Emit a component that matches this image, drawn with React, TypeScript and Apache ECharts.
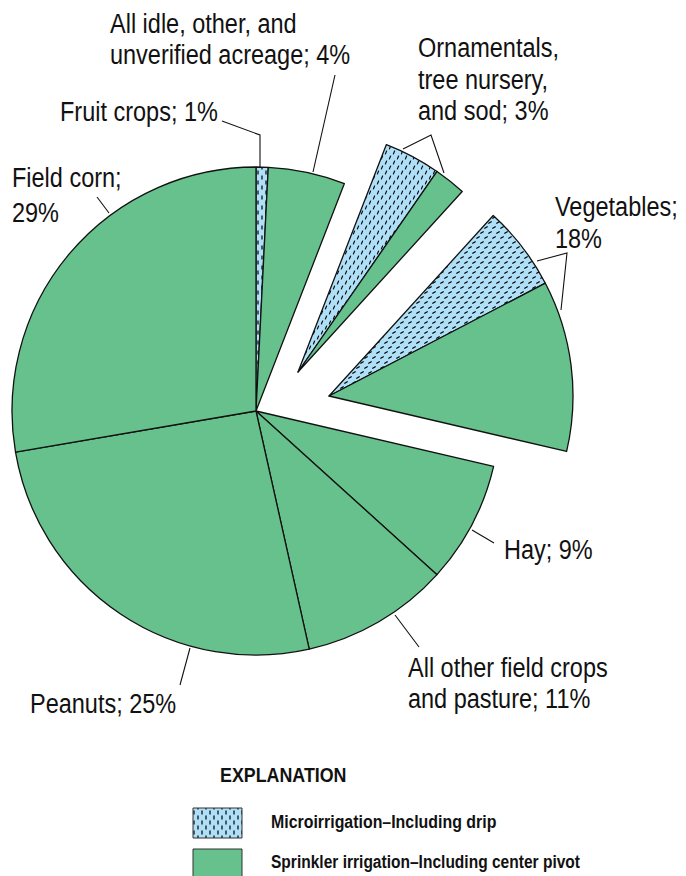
import React, { useEffect, useRef } from "react";
import * as echarts from "echarts";

// ---- Data ----
const categories = [
  "Fruit crops",
  "All idle, other, and unverified acreage",
  "Ornamentals, tree nursery, and sod",
  "Vegetables",
  "Hay",
  "All other field crops and pasture",
  "Peanuts",
  "Field corn",
];
// printed percentages in the labels
const labelPercents = [1, 4, 3, 18, 9, 11, 25, 29];
// share of the circle as drawn (percent of 360°), split by irrigation type
const microShare = [0.8, 0, 3.75, 5.6, 0, 0, 0, 0];
const sprinklerShare = [0, 5.1, 2.1, 11.3, 8.05, 9.8, 25.8, 27.7];
// 0 = main pie, 1 = first exploded wedge, 2 = second exploded wedge
const explodedGroup = [0, 0, 1, 2, 0, 0, 0, 0];
const legendLabels = [
  "Microirrigation\u2013Including drip",
  "Sprinkler irrigation\u2013Including center pivot",
];
const explanationTitle = "EXPLANATION";

// ---- Styling ----
const GREEN = "#66c18d";
const BLUE = "#b0e0f8";
const INK = "#111111";
const FONT = "'Liberation Sans', Arial, sans-serif";
const hatchAngles = [0, 0, 22, 57, 0, 0, 0, 0];

function makeHatch(angleDeg: number) {
  const c = document.createElement("canvas");
  c.width = 8;
  c.height = 10;
  const ctx = c.getContext("2d")!;
  ctx.fillStyle = BLUE;
  ctx.fillRect(0, 0, 8, 10);
  ctx.strokeStyle = "#000";
  ctx.lineWidth = 1.2;
  const a = (angleDeg * Math.PI) / 180;
  const dx = Math.sin(a) * 2;
  const dy = -Math.cos(a) * 2;
  const dash = (cx: number, cy: number) => {
    ctx.beginPath();
    ctx.moveTo(cx - dx, cy - dy);
    ctx.lineTo(cx + dx, cy + dy);
    ctx.stroke();
  };
  dash(2, 2.5);
  dash(6, 7.5);
  return { image: c, repeat: "repeat" as const };
}

function labelText(i: number) {
  return `${labelPercents[i]}%`;
}

export default function App() {
  const ref = useRef<HTMLDivElement>(null);
  useEffect(() => {
    if (!ref.current) return;
    const chart = echarts.init(ref.current, undefined, { renderer: "svg" });

    const centers: [number, number][] = [
      [256, 411],
      [298, 372],
      [329, 396],
    ];
    const R = 244;
    const hidden = {
      color: "rgba(0,0,0,0)",
      borderColor: "rgba(0,0,0,0)",
      borderWidth: 0,
    };
    const build = (g: number) => {
      const data: any[] = [];
      categories.forEach((c, i) => {
        const vis = explodedGroup[i] === g;
        if (microShare[i] > 0)
          data.push({
            name: c + " (micro)",
            value: microShare[i],
            itemStyle: vis
              ? { color: makeHatch(hatchAngles[i]), borderColor: INK, borderWidth: 1.3 }
              : hidden,
          });
        if (sprinklerShare[i] > 0)
          data.push({
            name: c + " (sprinkler)",
            value: sprinklerShare[i],
            itemStyle: vis ? { color: GREEN, borderColor: INK, borderWidth: 1.3 } : hidden,
          });
      });
      return data;
    };

    const series = centers.map((ctr, g) => ({
      type: "pie",
      center: ctr,
      radius: [0, R],
      startAngle: 90,
      clockwise: true,
      silent: true,
      label: { show: false },
      labelLine: { show: false },
      emphasis: { disabled: true },
      data: build(g),
    }));

    const txt = (
      x: number,
      baseline: number,
      text: string,
      size = 27,
      weight = "normal",
      sx = 0.87
    ) => ({
      type: "text",
      x,
      y: baseline - size * 0.35,
      scaleX: sx,
      silent: true,
      style: {
        text,
        fill: "#111",
        fontSize: size,
        fontFamily: FONT,
        fontWeight: weight,
        textAlign: "left",
        textVerticalAlign: "middle",
      },
    });
    const line = (pts: number[][]) => ({
      type: "polyline",
      silent: true,
      shape: { points: pts },
      style: { stroke: INK, lineWidth: 1.1, fill: "none" },
    });

    const graphics: any[] = [
      // labels
      txt(110, 33, "All idle, other, and"),
      txt(110, 64, `unverified acreage; ${labelText(1)}`),
      txt(60, 121, `Fruit crops; ${labelText(0)}`),
      txt(418, 57, "Ornamentals,"),
      txt(418, 89, "tree nursery,"),
      txt(418, 120, `and sod; ${labelText(2)}`),
      txt(555, 216, "Vegetables;"),
      txt(555, 248, labelText(3)),
      txt(12, 187, "Field corn;"),
      txt(12, 222, labelText(7)),
      txt(504, 559, `Hay; ${labelText(4)}`),
      txt(408, 677, "All other field crops"),
      txt(408, 708, `and pasture; ${labelText(5)}`),
      txt(30, 713, `Peanuts; ${labelText(6)}`),
      // leader lines
      line([[222, 121], [260, 135], [260, 167]]),
      line([[335, 75], [313, 172]]),
      line([[403, 149], [431, 135], [444, 173]]),
      line([[537, 261], [567, 253], [561, 310]]),
      line([[472, 530], [494, 543]]),
      line([[395, 615], [419, 647]]),
      line([[190, 648], [180, 685]]),
      line([[97, 197], [109, 213]]),
      // explanation
      txt(220, 782, explanationTitle, 21, "bold", 0.85),
      {
        type: "rect",
        silent: true,
        shape: { x: 193, y: 808, width: 49, height: 30 },
        style: { fill: makeHatch(0), stroke: "#333", lineWidth: 1 },
      },
      {
        type: "rect",
        silent: true,
        shape: { x: 193, y: 849, width: 49, height: 30 },
        style: { fill: GREEN, stroke: "#333", lineWidth: 1 },
      },
      txt(271, 828, legendLabels[0], 18.5, "bold", 0.86),
      txt(271, 869, legendLabels[1], 18.5, "bold", 0.84),
    ];

    chart.setOption({
      animation: false,
      backgroundColor: "#ffffff",
      series,
      graphic: graphics,
    });
    return () => chart.dispose();
  }, []);
  return (
    <div
      ref={ref}
      style={{ position: "absolute", left: 0, top: 0, width: 686, height: 876 }}
    />
  );
}
